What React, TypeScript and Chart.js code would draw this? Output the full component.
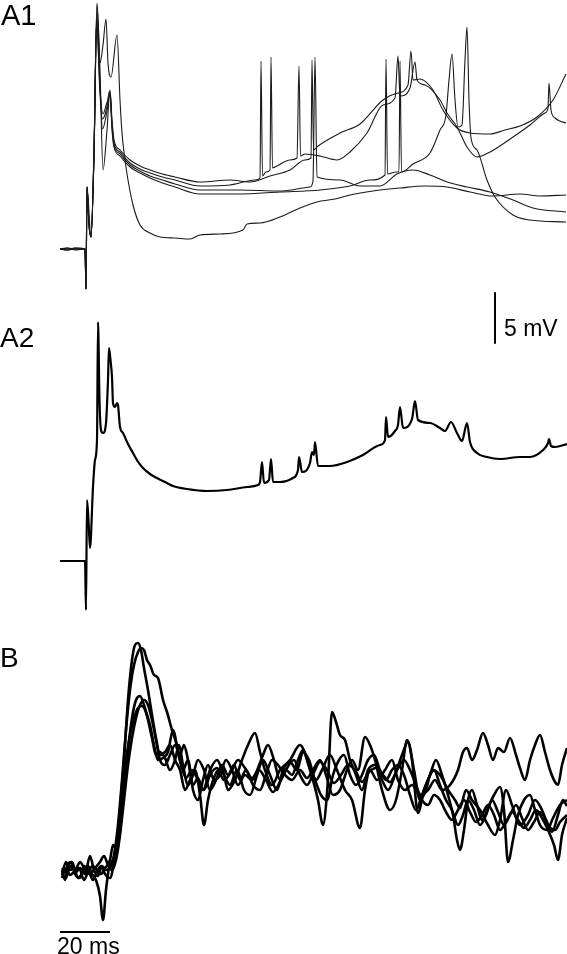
import React, { useEffect, useRef } from "react";
import { Chart, registerables } from "chart.js";
Chart.register(...registerables);

type P = [number, number];

// ---------- Panel A1: [time ms, voltage mV] ----------
const a1Low: P[] = [[0,0],[3,0.1],[6,-0.1],[10,0],[10.4,-4],[10.8,6.2],[12.4,1.2],[13.6,9.9],[14.8,24.6],[16,18.6],[17.2,20.4],[18.4,23],[19.2,18.6],[20.4,17.2],[22.8,21.4],[24,14.9],[24.8,11.6],[26,8.9],[27.2,6.9],[29.2,4.4],[32,2.4],[36,1.6],[40,1.2],[46,1.1],[52,1.0],[56,1.4],[64,1.5],[73.2,1.9],[74.8,2.5],[80,2.6],[88,3.2],[96,4.1],[102.8,4.7],[110,5.0],[116,5.4],[125.2,5.8],[136,6.1],[146,6.3],[154.8,6.2],[164,5.7],[173.2,5.3],[184,5.5],[192,5.3],[202.4,5.4]];

const a1Trace1: P[] = [[0,0],[3,-0.1],[6,0.1],[10,0],[10.4,-4],[10.8,6.2],[11.6,2.4],[12.4,1.2],[13.6,9.9],[14.8,24.4],[16,17.9],[17.2,7.9],[18.8,11.9],[20,15.9],[20.8,12.9],[21.6,10.9],[24,9.9],[28,8.9],[32,8.3],[36,7.9],[41,7.5],[46,7.2],[56,6.7],[68,6.9],[76,6.7],[84,7.3],[92,7.9],[98,8.9],[100.4,9.1],[100.8,18.9],[101.4,9.9],[103.2,10.3],[112,11.6],[120,12.5],[129.2,14.9],[135.2,15.6],[139.2,16.4],[140.4,19.8],[141.2,16.9],[144,17],[149.2,15.9],[153.2,13.9],[158.8,12.1],[164,11.6],[172,11.5],[178,11.9],[184,12.3],[190.8,13.2],[197.2,14.9],[202.4,17.5]];

const a1Trace2: P[] = [[0,0],[3,0.1],[6,0],[10,0],[10.4,-4],[10.8,6.2],[11.6,2.4],[12.4,1.2],[13.6,9.5],[14.8,23.5],[16,16.5],[17,12],[18.6,13.5],[20,15.6],[20.8,12.5],[21.6,10.6],[24,9.7],[28,8.6],[32,8.0],[36,7.6],[41,7.2],[46,6.9],[56,6.3],[68,6.4],[78,6.9],[80,7.1],[80.4,18.8],[81,7.3],[82.4,7.7],[84,7.9],[84.4,19.2],[85,8.1],[86.8,8.3],[92,8.9],[94.8,9.1],[95.6,18.3],[96.2,9.3],[98,9.5],[104,9.3],[110.8,8.9],[116,9.7],[122.8,11.6],[129.2,14.4],[134,15.1],[135.2,19.3],[136,15.3],[140,16.1],[142,18.7],[142.8,16.9],[146,16.4],[152,14.9],[154.8,13.6],[158.8,12.2],[162.8,10.2],[166.8,9.2],[172,9.7],[181.2,11.2],[188,12.4],[194,13.6],[195.2,14.1],[195.6,16.6],[196.4,13.9],[198,13.1],[200,12.8],[202.4,12.6]];

const a1Trace3: P[] = [[0,0],[3,0],[6,0.1],[10,0],[10.4,-4],[10.8,6.2],[11.6,2.4],[12.4,1.2],[13.6,9.2],[14.6,22.8],[16,15.5],[17,13],[18.6,14],[19.8,15.8],[20.8,12.2],[21.6,10.4],[24,9.5],[28,8.4],[32,7.8],[36,7.3],[41,6.9],[46,6.5],[56,5.9],[72,5.9],[88,5.8],[100,6.2],[101.2,6.8],[102,19.2],[102.8,7.2],[112,6.9],[120,6.3],[128,6.3],[134.8,7.5],[141.2,7.9],[148,7.4],[154.8,6.7],[162.8,6.2],[172,5.7],[181.2,4.9],[189.2,4.1],[202.4,3.7]];

const a1Trace4: P[] = [[0,0],[3,-0.1],[6,0],[10,0],[10.4,-4],[10.8,6.2],[11.6,2.4],[12.4,1.2],[13.6,9.4],[14.7,23],[16,16],[17.2,13.5],[18.6,14.5],[20.2,15.4],[20.8,12],[21.6,10.2],[24,9.3],[28,8.2],[32,7.6],[36,7.1],[41,6.6],[46,6.2],[56,5.5],[72,5.5],[88,5.7],[104,5.9],[116,6.3],[124,6.9],[130,7.4],[130.4,19],[131,7.5],[134.4,7.7],[135.6,7.7],[136,18.8],[136.6,7.7],[141.2,8.5],[148,9.6],[152,11.9],[154.4,13.4],[155.6,16.9],[156.8,19.5],[158,14.9],[159.2,12.2],[160.8,12.4],[162,18.9],[162.8,22.2],[163.6,14.9],[164.4,11.1],[166.8,9.9],[170.8,6.9],[174,5.2],[181.2,3.4],[188,2.9],[202.4,2.7]];

// ---------- Panel A2 ----------
const a2Trace: P[] = [[0,0],[4,0],[10,0],[10.4,-4.9],[10.8,6.1],[11.4,4.1],[12,1.3],[13.2,7.4],[14,10.1],[14.8,12.1],[15.2,23.9],[15.8,16.1],[16.4,13.1],[17.2,12.8],[18.4,13.8],[19.2,18.1],[19.6,21.3],[20.2,20.1],[20.8,18.4],[21.2,15.8],[22,15.4],[22.8,15.8],[23.2,15.6],[24,13.4],[25.2,12.8],[27,11.8],[29.2,10.8],[31,10.0],[33.2,9.3],[36,8.7],[38.8,8.3],[42,7.9],[45.2,7.5],[50.8,7.2],[58.8,7.0],[66.8,7.1],[74.8,7.4],[79.2,7.6],[80,7.9],[80.8,9.9],[81.6,7.8],[83.6,8.1],[84.4,10.2],[85.2,7.9],[88,7.9],[93.2,8.3],[95.2,9.1],[95.6,10.4],[96.8,8.9],[100,9.8],[100.8,10.9],[101.6,10.6],[102,11.9],[103.2,9.5],[108,9.5],[114.8,9.9],[121.2,10.6],[128,11.6],[130,12.1],[130.4,14.4],[131.2,12.4],[134,13],[135.2,13.6],[136,15.4],[137.2,13.3],[140.8,14.2],[142,16],[143.2,14.1],[148,13.8],[152,13.3],[154,13],[156.4,13.9],[158.8,12.8],[160.8,12],[162.8,13.8],[164,11.9],[166.8,10.8],[170.8,10.4],[176,10.2],[184,10.4],[188,10.4],[193.2,11.1],[195.2,11.8],[195.6,12.2],[196.4,11.5],[198,11.4],[202.8,11.7]];

// ---------- Panel B ----------
const bTrace1: P[] = [[0.8,0.5],[2.4,1.8],[4,1.0],[5.6,1.2],[7.2,0.2],[9.2,0.8],[11.2,1.4],[12.8,0.6],[14.4,0],[16,-1.6],[17.2,-4],[18.4,-1],[19.6,1.2],[20.8,1.8],[22.4,3],[24,7],[25.6,12],[27.2,18],[28.8,22],[30,23.5],[31.2,23.7],[32.4,23],[33.6,21.2],[35.2,19],[36.8,16.5],[38.4,14.2],[40,12.5],[42,12.8],[44,13.5],[46,12],[48,11],[50,9],[52,10],[54,11],[56,8.5],[57.6,5.5],[59.2,8],[62,10.5],[64.8,11.2],[67.2,9],[70,10],[72.8,12],[75.2,13.5],[78,14.7],[80,12.8],[82,11],[84.8,9.5],[88,11],[92,12],[96,13.5],[100,11],[103.2,8],[105.2,5.5],[107.2,10],[108.8,16.8],[110.4,15.8],[112,14.5],[114,14],[116,12],[118.4,10.5],[120.8,9],[123.2,11],[126,11.5],[128.8,10],[131.2,9],[134,10.5],[136.8,12.5],[139.2,13.8],[141.6,11],[144,8],[146.4,9],[148.8,11],[152,10.5],[155.2,9],[158,8],[160,7.2],[162.4,9],[164.8,8],[168,7],[171.2,5.5],[174,4.5],[176,6],[178.4,9],[180.8,7.5],[184,5.5],[187.2,6.5],[190,8],[192.8,7],[195.2,5.5],[198,5],[200,5.8],[202.8,6.5]];

const bTrace2: P[] = [[0.8,1.0],[2,0],[3.2,1.5],[4.8,1.8],[6.4,0.8],[8,1.2],[10,0.6],[12,2.4],[13.6,1],[15.2,0.4],[16.8,1.4],[18.4,1],[20,1.2],[21.6,2.5],[23.2,5.5],[24.8,10],[26.4,15],[28,19],[29.6,21.5],[31.2,22.8],[32.4,23.2],[33.6,23],[34.8,22],[36,21.5],[37.6,20.5],[39.2,20.2],[41.2,18],[42.8,16.8],[44.8,15],[46.4,13.8],[48,12.5],[49.6,13.5],[51.2,12],[53.2,9.5],[55.2,10.2],[57.2,9],[60,11],[62.8,12],[65.6,10.5],[68,9.5],[70.8,11],[73.6,9],[76,8.5],[78.8,10.5],[81.2,12],[84,10.5],[86.8,9],[89.2,11],[92,11.8],[94.8,11],[97.2,12.8],[99.6,12],[102.4,10],[104.8,11],[108,12.5],[110.8,11],[114,9],[116.8,8],[120,5.2],[122,9],[124,11],[126.8,10],[130,11],[132.8,12],[135.2,10],[138,9],[140.8,9.5],[144,8.5],[147.2,9],[150,10],[152.8,9],[156,9.5],[159.2,11],[161.2,12.8],[162.8,13.2],[164.8,12],[166.8,13],[169.2,14.7],[171.2,13.5],[173.2,12],[175.2,13.2],[177.6,12.8],[180,14.2],[182.4,12.5],[184,11.2],[186,10],[188,12],[190,13.5],[192,14.5],[194,12.8],[196,11],[198,9.8],[199.2,9.5],[200.8,11.5],[202.8,13.2]];

const bTrace3: P[] = [[0.8,0.2],[2.4,1.2],[4,0.5],[5.6,0.8],[7.6,1.2],[9.6,0],[11.2,0.8],[13.2,1.4],[14.8,1],[16.4,0.6],[18,1.2],[20,2],[21.2,3.5],[22.8,3],[24,5],[25.6,9],[27.2,13],[28.8,16.2],[30.4,18],[32,18.4],[33.6,17.5],[35.2,16],[36.8,14.2],[38.4,12.5],[40,12.8],[42,12.2],[44,11],[46,12],[47.6,13.5],[49.2,11.5],[51.2,9.5],[53.2,10.5],[55.2,12],[57.6,11],[60,9],[62.4,10],[64.8,11.5],[67.2,10.5],[69.6,11.5],[72,10],[74.4,11],[77.2,9.5],[80,9],[82.4,10.5],[84.8,12],[87.2,11.5],[90,10.5],[92.8,10],[96,11],[98.8,10.2],[101.2,11],[104,12],[106.4,10.5],[109.2,8.5],[112,9],[114.8,11],[116.8,12],[119.2,11],[122,14.3],[124,13.5],[126,12],[128.8,9],[132,7],[134.4,8],[136.8,11],[138.8,14],[140.8,12],[143.2,6.7],[145.6,9],[148,10.5],[150.4,12],[152.8,10.5],[155.2,8.5],[157.2,6.5],[158.8,4],[160,3],[161.6,5],[163.2,8],[164.8,9],[166.8,7.5],[168.8,6],[171.2,7.2],[173.6,8.5],[176,9.3],[177.6,7],[179.2,1.8],[181.2,4],[183.2,6.5],[185.6,8],[188,8.5],[190,7],[192,5.5],[194.8,5],[197.2,6.2],[200,7.5],[202.8,8]];

const bTrace4: P[] = [[0.8,1.2],[2,0.8],[4,1.8],[6,0.6],[8,0.2],[9.6,1.4],[11.6,0.8],[13.2,0],[14.8,0.8],[16.4,1.4],[18,0.6],[20,0.2],[21.6,1.8],[23.2,4.5],[24.8,8.5],[26.4,12],[28,14.5],[29.6,16.2],[31.2,17.2],[32.8,17.4],[34.4,16.8],[36,15.5],[37.6,13.5],[39.2,12],[41.2,12.2],[43.2,12.8],[45.2,15],[47.2,12.8],[49.2,11],[51.2,12],[53.2,9],[55.2,8],[57.2,10],[59.2,11.5],[61.6,10],[64,10.5],[66.4,12],[68.8,11],[71.2,9.5],[74,10.5],[76.8,10],[79.2,11.2],[81.2,12.5],[83.2,13.5],[85.6,12],[88,10],[90.4,11],[92.8,10.5],[95.2,12],[97.2,13],[99.6,11.5],[102,10],[104.4,8.5],[106.8,8],[109.2,10.5],[111.6,12],[113.6,12.5],[116,10.5],[118.4,9.5],[120.8,10.5],[123.2,12],[125.6,12.5],[128,11],[130.4,10],[132.8,11],[135.2,11.5],[137.6,10.5],[140,8.5],[142.4,7],[144.8,8.5],[147.2,10],[149.6,11],[152,9.5],[154.4,8],[156.8,7],[159.2,5.5],[161.2,6.5],[163.2,8],[165.6,7],[168,5.5],[170.4,6.5],[172.8,8],[175.2,6.8],[177.6,5.5],[180,6.5],[182.4,7.5],[184.8,6.2],[187.2,5],[189.6,5.8],[192,6.8],[194.4,6],[196.8,4.8],[199.2,6.5],[201.2,8],[202.8,7.4]];

const bTrace5: P[] = [[0.8,0.6],[2.4,0.2],[4,1.4],[6,1],[8,1.8],[10,1],[12,0.6],[14,1.2],[16,1.8],[17.6,2.4],[19.2,1.5],[20.8,1],[22.4,2],[24,4.5],[25.6,8],[27.2,11.5],[28.8,14.2],[30.4,16.2],[32,17.5],[33.6,18],[35.2,17.5],[36.8,16],[38.4,14],[40,12],[42,11.5],[44,12.5],[46,13.5],[48,12],[50.4,10.2],[52.8,11],[55.2,10],[57.6,9],[60,10.5],[62.8,11.2],[65.6,10],[68.4,10.8],[71.2,12],[74,11.2],[76.8,10.2],[79.6,11],[82.4,10],[85.2,8.8],[88,9.8],[90.8,11.2],[93.6,12],[96,10.5],[98.8,9.5],[101.6,10.8],[104,11.8],[106.8,11],[109.6,9.7],[112.4,10.5],[115.2,11.5],[118,11],[120.8,9.8],[123.6,10.8],[126.4,11.2],[129.2,10.5],[132,9.8],[134.8,11],[137.6,12],[140,11],[142.4,9.5],[144.8,8],[147.2,7.5],[149.6,8.5],[152,8],[154.4,6.8],[156.8,6],[159.2,7],[161.6,8],[164,6.8],[166.4,5.8],[168.8,6.5],[171.2,7.5],[173.6,6.5],[176,5],[178.4,5.8],[180.8,6.8],[183.2,6],[185.6,5.2],[188,6],[190.4,7],[192.8,6.2],[195.2,5],[197.6,3.5],[199.2,2],[200.8,4.5],[202.8,6.2]];

// ---------- Scale bars ----------
const mvBar: P[] = [[174, -4.4], [174, -9.4]]; // 5 mV, on A1 axis
const msBar: P[] = [[0, -5.2], [20, -5.2]];    // 20 ms, on B axis

const panelLabels = ["A1", "A2", "B"];
const mvLabel = "5 mV";
const msLabel = "20 ms";

const FONT = '"Liberation Sans", Arial, Helvetica, sans-serif';

export default function App() {
  const ref = useRef<HTMLCanvasElement>(null);

  useEffect(() => {
    const pts = (a: P[]) => a.map(([x, y]) => ({ x, y }));
    const ds = (d: P[], axis: string, w: number, smooth: boolean, color = "#111") => ({
      data: pts(d),
      yAxisID: axis,
      xAxisID: "x",
      borderColor: color,
      borderWidth: w,
      pointRadius: 0,
      tension: 0,
      cubicInterpolationMode: smooth ? ("monotone" as const) : ("default" as const),
      fill: false,
      borderJoinStyle: "round" as const,
      borderCapStyle: "butt" as const,
    });
    const chart = new Chart(ref.current!, {
      type: "line",
      data: {
        datasets: [
          ds(a1Low, "yA1", 1.1, true, "#1a1a1a"),
          ds(a1Trace1, "yA1", 1.1, true, "#1a1a1a"),
          ds(a1Trace2, "yA1", 1.1, true, "#1a1a1a"),
          ds(a1Trace3, "yA1", 1.1, true, "#1a1a1a"),
          ds(a1Trace4, "yA1", 1.1, true, "#1a1a1a"),
          ds(a2Trace, "yA2", 2.2, true, "#000"),
          ds(bTrace1, "yB", 2.6, true, "#000"),
          ds(bTrace2, "yB", 2.6, true, "#000"),
          ds(bTrace3, "yB", 2.6, true, "#000"),
          ds(bTrace4, "yB", 2.6, true, "#000"),
          ds(bTrace5, "yB", 2.6, true, "#000"),
          ds(mvBar, "yA1", 2, false, "#000"),
          ds(msBar, "yB", 2, false, "#000"),
        ],
      },
      options: {
        animation: false,
        responsive: false,
        devicePixelRatio: 1,
        layout: { padding: 0 },
        plugins: { legend: { display: false }, tooltip: { enabled: false } },
        scales: {
          x: { type: "linear", min: -24, max: 202.8, display: false },
          yA1: { type: "linear", axis: "y", min: -70.5, max: 24.9, display: false },
          yA2: { type: "linear", axis: "y", min: -39.3, max: 56.1, display: false },
          yB: { type: "linear", axis: "y", min: -7.4, max: 88, display: false },
        },
      },
    } as any);
    return () => chart.destroy();
  }, []);

  const lab = (text: string, left: number, top: number, size: number) => (
    <div
      key={text}
      style={{
        position: "absolute",
        left,
        top,
        fontFamily: FONT,
        fontSize: size,
        lineHeight: 1,
        color: "#000",
        whiteSpace: "nowrap",
      }}
    >
      {text}
    </div>
  );

  return (
    <div
      style={{
        position: "absolute",
        left: 0,
        top: 0,
        width: 567,
        height: 954,
        overflow: "hidden",
        background: "#fff",
      }}
    >
      <canvas ref={ref} width={567} height={954} style={{ position: "absolute", left: 0, top: 0 }} />
      {lab(panelLabels[0], 1, 1, 29)}
      {lab(panelLabels[1], 0, 324, 28)}
      {lab(panelLabels[2], 0, 644, 28)}
      {lab(mvLabel, 504, 317, 23)}
      {lab(msLabel, 57, 935, 23)}
    </div>
  );
}
